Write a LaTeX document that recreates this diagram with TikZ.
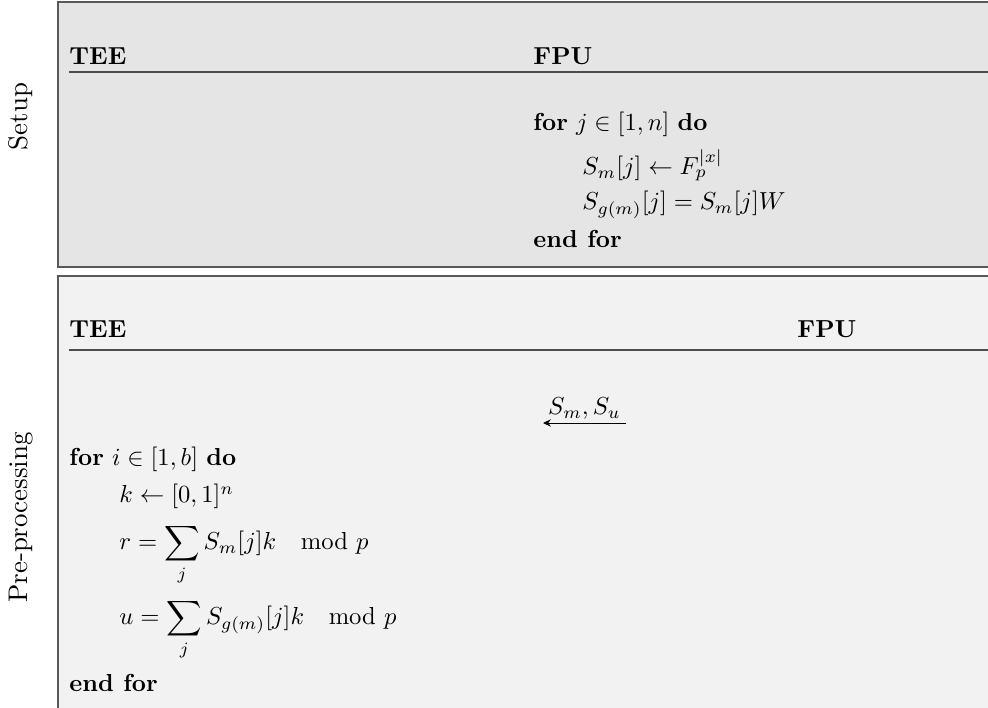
\documentclass[tikz,border=0pt]{standalone}
\usepackage{amsmath}
\usetikzlibrary{arrows.meta}
\begin{document}
\begin{tikzpicture}[x=0.4065pt,y=-0.4065pt,
  tx/.style={inner sep=0pt, anchor=base west},
  side/.style={inner sep=0pt, anchor=base, rotate=90, font=\fontsize{10.95}{13}\selectfont},
  box/.style={draw=black!65, line width=0.6pt},
  hrule/.style={draw=black!70, line width=0.45pt},
  msg/.style={-{Stealth[length=3.2pt,width=3pt]}, line width=0.4pt}]
\clip (0,0) rectangle (988,708);
\fill[white] (0,0) rectangle (988,708);
% boxes
\draw[box, fill=black!10] (58,2) rectangle (1010,267);
\draw[box, fill=black!5] (58,276) rectangle (1010,730);
% side labels
\node[side] (lsetup) at (28,116.5) {Setup};
\node[side] (lpre) at (28,517.5) {Pre-processing};
% Setup box
\node[tx] (tee1) at (69,65) {\textbf{TEE}};
\node[tx] (fpu1) at (533,65) {\textbf{FPU}};
\draw[hrule] (69,72) -- (1010,72);
\node[tx] (s1) at (533,131) {\textbf{for} $j \in [1,n]$ \textbf{do}};
\node[tx] (s2) at (582,175) {$S_m[j] \leftarrow F_p^{|x|}$};
\node[tx] (s3) at (582,210) {$S_{g(m)}[j] = S_m[j]W$};
\node[tx] (s4) at (533,248) {\textbf{end for}};
% Pre-processing box
\node[tx] (tee2) at (69,338) {\textbf{TEE}};
\node[tx] (fpu2) at (797,338) {\textbf{FPU}};
\draw[hrule] (69,350) -- (1010,350);
\coordinate (afpu) at (626,423);
\coordinate (atee) at (543,423);
\draw[msg] (afpu) -- (atee);
\node[inner sep=0pt, anchor=base] (albl) at (584.5,415) {$S_m, S_u$};
\node[tx] (p1) at (69,466) {\textbf{for} $i \in [1,b]$ \textbf{do}};
\node[tx] (p2) at (119,503) {$k \leftarrow [0,1]^n$};
\node[tx] (p3) at (119,550) {$\displaystyle r = \sum_j S_m[j]k \mkern18mu \mathrm{mod}\,\, p$};
\node[tx] (p4) at (119,625) {$\displaystyle u = \sum_j S_{g(m)}[j]k \mkern18mu \mathrm{mod}\,\, p$};
\node[tx] (p5) at (69,692) {\textbf{end for}};
\end{tikzpicture}
\end{document}
